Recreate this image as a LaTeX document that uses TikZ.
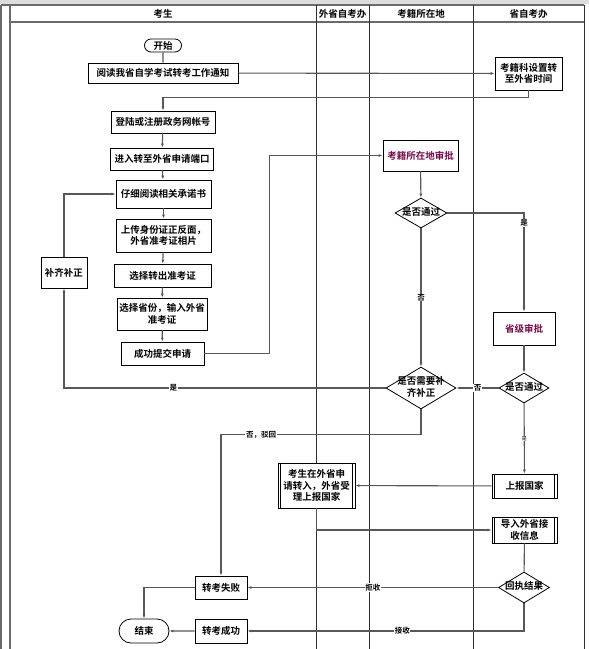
\documentclass[tikz,border=0pt]{standalone}
\usepackage{fontspec}
\newfontfamily\cjk{Noto Sans CJK SC}[BoldFont={Noto Sans CJK SC Bold}]
\usetikzlibrary{arrows.meta,shapes.geometric,shapes.misc}
\definecolor{lanegray}{HTML}{2E2E2E}
\definecolor{framegray}{HTML}{6A6A6A}
\definecolor{flowgray}{HTML}{585858}
\definecolor{aprvred}{HTML}{7A0A45}
\definecolor{topband}{HTML}{DDDDDD}
\newcommand{\dlbl}[1]{\makebox[0pt]{\begin{tabular}{@{}c@{}}#1\end{tabular}}}

\begin{document}
\begin{tikzpicture}[x=1pt, y=-1pt,
  font=\cjk\bfseries\fontsize{9.5}{11.5}\selectfont,
  lane/.style={draw=lanegray, line width=0.8pt},
  frame/.style={draw=framegray, line width=1.4pt},
  head/.style={inner sep=0pt},
  box/.style={draw=black, fill=white, align=center, inner sep=1pt, line width=0.8pt},
  aprv/.style={box, text=aprvred},
  term/.style={draw=black, fill=white, rounded rectangle, inner sep=1pt, line width=0.8pt},
  decide/.style={draw=black, fill=white, diamond, inner sep=0pt, line width=0.8pt},
  bar/.style={draw=black, line width=0.8pt},
  flow/.style={-{Latex[length=4pt,width=3pt]}, draw=flowgray, line width=1.1pt},
  link/.style={draw=flowgray, line width=1.1pt},
  lbl/.style={fill=white, inner sep=0.6pt, font=\cjk\bfseries\fontsize{7.5}{8}\selectfont}
]
\useasboundingbox (0,0) rectangle (589,649);
\fill[topband] (0,0) rectangle (589,4);

% swimlanes
\draw[frame] (1,5) -- (1,649);
\draw[frame] (10,5) -- (10,649);
\draw[frame] (1,5) -- (584,5);
\draw[frame] (10,22) -- (584,22);
\draw[lane] (584,5) -- (584,649);
\draw[lane] (316,5) -- (316,649);
\draw[lane] (369,5) -- (369,649);
\draw[lane] (473,5) -- (473,649);
\node[head] (hstu) at (163,14) {考生};
\node[head] (hout) at (342.5,14) {外省自考办};
\node[head] (hloc) at (421,14) {考籍所在地};
\node[head] (hprov) at (528.5,14) {省自考办};

% candidate lane
\node[term, minimum width=39, minimum height=13] (start) at (163,45.5) {开始};
\node[box, minimum width=150, minimum height=20] (read) at (163,73) {阅读我省自学考试转考工作通知};
\node[box, minimum width=104, minimum height=22] (login) at (163,122) {登陆或注册政务网帐号};
\node[box, minimum width=103, minimum height=22] (entry) at (162,159) {进入转至外省申请端口};
\node[box, minimum width=95, minimum height=28] (promise) at (163.5,194) {仔细阅读相关承诺书};
\node[box, minimum width=95, minimum height=33] (upload) at (163.5,235.5) {上传身份证正反面，\\外省准考证相片};
\node[box, minimum width=97, minimum height=23] (choose) at (162.5,275.5) {选择转出准考证};
\node[box, minimum width=90, minimum height=32] (prov) at (162,314) {选择省份，输入外省\\准考证};
\node[box, minimum width=83, minimum height=23] (submit) at (162.5,353.5) {成功提交申请};
\node[box, minimum width=46, minimum height=31] (fix) at (64,272.5) {补齐补正};
\node[box, minimum width=52, minimum height=23] (fail) at (221,587.5) {转考失败};
\node[box, minimum width=52, minimum height=24] (succ) at (221,631) {转考成功};
\node[term, minimum width=52, minimum height=24] (end) at (144,631) {结束};

% other lanes
\node[box, minimum width=77, minimum height=45] (accept) at (316.5,485.5) {考生在外省申\\请转入，外省受\\理上报国家};
\node[aprv, minimum width=75, minimum height=31] (local) at (420.5,155.5) {考籍所在地审批};
\node[decide, minimum width=52, minimum height=30] (pass1) at (421,213) {\dlbl{是否通过}};
\node[decide, minimum width=70, minimum height=42] (needfix) at (421,388) {\dlbl{是否需要补\\齐补正}};
\node[box, minimum width=67, minimum height=33] (settime) at (528.5,73.5) {考籍科设置转\\至外省时间};
\node[aprv, minimum width=62, minimum height=33] (provchk) at (524,328.5) {省级审批};
\node[decide, minimum width=50, minimum height=30] (pass2) at (524,388) {\dlbl{是否通过}};
\node[box, minimum width=65, minimum height=24] (report) at (524.5,486) {上报国家};
\node[box, minimum width=65, minimum height=26] (import) at (524.5,530) {导入外省接\\收信息};
\node[decide, minimum width=51, minimum height=31] (receipt) at (524,587.5) {\dlbl{回执结果}};
\foreach \n in {report,accept,import} {
  \draw[bar] ([xshift=3pt]\n.north west) -- ([xshift=3pt]\n.south west);
  \draw[bar] ([xshift=-3pt]\n.north east) -- ([xshift=-3pt]\n.south east);
}

% connectors
\draw[link] (start) -- (read);
\draw[flow] (read) -- (settime);
\draw[flow] (settime.south) -- ++(0,7) -| (login.north);
\draw[flow] (login) -- (entry);
\draw[flow] (entry) -- (promise);
\draw[flow] (promise) -- (upload);
\draw[flow] (upload) -- (choose);
\draw[flow] (choose) -- (prov);
\draw[flow] (prov) -- (submit);
\draw[flow] (submit.east) -- ++(65,0) |- (local.west);
\draw[flow] (local) -- (pass1);
\draw[flow] (pass1.east) -| node[lbl, pos=0.55] {是} (provchk.north);
\draw[flow] (pass1) -- node[lbl] {否} (needfix);
\draw[flow] (provchk) -- (pass2);
\draw[flow] (pass2) -- node[lbl] {否} (needfix);
\draw[flow] (needfix.west) -| node[lbl, pos=0.33] {是} (fix.south);
\draw[flow] (fix.north) |- (promise.west);
\draw[flow] (needfix.south) -- ++(0,25) -| node[lbl, pos=0.4] {否，驳回} (fail.north);
\draw[flow] (pass2) -- node[lbl, font=\cjk\fontsize{5}{6}\selectfont] {是} (report);
\draw[flow] (report) -- (accept);
\draw[flow] (accept.south) |- (import.west);
\draw[link] (import) -- (receipt);
\draw[flow] (receipt) -- node[lbl] {拒收} (fail);
\draw[flow] (receipt.south) |- node[lbl, pos=0.72] {接收} (succ.east);
\draw[flow] (succ) -- (end);
\draw[flow] (fail.west) -| (end.north);
\end{tikzpicture}
\end{document}
